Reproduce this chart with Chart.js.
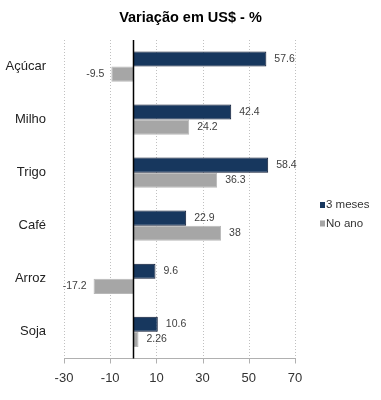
<!DOCTYPE html>
<html><head><meta charset="utf-8">
<script src="https://cdn.jsdelivr.net/npm/chart.js@4"></script>
<style>html,body{margin:0;padding:0;background:#fff}#wrap{width:381px;height:400px}</style>
</head><body><div id="wrap"><canvas id="c"></canvas></div>
<script>
const categories = ["Açúcar", "Milho", "Trigo", "Café", "Arroz", "Soja"];
const tresMeses = [57.6, 42.4, 58.4, 22.9, 9.6, 10.6];
const noAno = [-9.5, 24.2, 36.3, 38, -17.2, 2.26];
const seriesNames = ["3 meses", "No ano"];
const xTicks = [-30, -10, 10, 30, 50, 70];
const titleText = "Variação em US$ - %";
const FONT = "'Liberation Sans', Arial, sans-serif";

const extras = {
  id: 'extras',
  beforeDatasetsDraw(chart) {
    const ctx = chart.ctx, x = chart.scales.x, a = chart.chartArea;
    ctx.save();
    ctx.strokeStyle = '#c0c0c0'; ctx.lineWidth = 1; ctx.setLineDash([1, 2]);
    xTicks.forEach(v => {
      const px = Math.round(x.getPixelForValue(v)) + 0.5;
      ctx.beginPath(); ctx.moveTo(px, a.top); ctx.lineTo(px, a.bottom); ctx.stroke();
    });
    ctx.setLineDash([]);
    ctx.strokeStyle = '#b0b0b0';
    const by = Math.round(a.bottom) + 0.5;
    ctx.beginPath(); ctx.moveTo(a.left, by); ctx.lineTo(a.right + 1, by); ctx.stroke();
    xTicks.forEach(v => {
      const px = Math.round(x.getPixelForValue(v)) + 0.5;
      ctx.beginPath(); ctx.moveTo(px, by); ctx.lineTo(px, by + 5); ctx.stroke();
    });
    ctx.restore();
  },
  afterDatasetsDraw(chart) {
    const ctx = chart.ctx, x = chart.scales.x, a = chart.chartArea;
    const zx = Math.round(x.getPixelForValue(0)) + 0.5;
    ctx.save();
    ctx.strokeStyle = '#000'; ctx.lineWidth = 1.5;
    ctx.beginPath(); ctx.moveTo(zx, a.top); ctx.lineTo(zx, a.bottom); ctx.stroke();
    // data labels
    ctx.font = "10.5px " + FONT; ctx.fillStyle = '#404040'; ctx.textBaseline = 'middle';
    chart.data.datasets.forEach((ds, di) => {
      chart.getDatasetMeta(di).data.forEach((bar, i) => {
        const v = ds.data[i];
        if (v >= 0) { ctx.textAlign = 'left'; ctx.fillText(String(v), bar.x + 8, bar.y); }
        else { ctx.textAlign = 'right'; ctx.fillText(String(v), bar.x - 7, bar.y); }
      });
    });
    // legend
    ctx.font = "11.5px " + FONT; ctx.textAlign = 'left';
    chart.data.datasets.forEach((ds, di) => {
      const y = 205 + di * 18.5;
      ctx.fillStyle = ds.backgroundColor;
      ctx.fillRect(320, y - 3, 5, 6);
      ctx.fillStyle = '#333';
      ctx.fillText(ds.label, 326, y);
    });
    // title
    ctx.font = "bold 14.5px " + FONT; ctx.textAlign = 'center'; ctx.fillStyle = '#000';
    ctx.fillText(titleText, 190.5, 18);
    ctx.restore();
  }
};

new Chart(document.getElementById('c'), {
  type: 'bar',
  data: {
    labels: categories,
    datasets: [
      { label: seriesNames[0], data: tresMeses, backgroundColor: '#17375E', borderColor: '#0C1833', borderWidth: 1 },
      { label: seriesNames[1], data: noAno, backgroundColor: '#A6A6A6', borderColor: '#B8B8B8', borderWidth: 1 }
    ]
  },
  options: {
    indexAxis: 'y',
    responsive: true, maintainAspectRatio: false, animation: false,
    categoryPercentage: 0.57, barPercentage: 1,
    layout: { padding: { left: 0, right: 86, top: 40, bottom: 2 } },
    plugins: {
      legend: { display: false },
      tooltip: { enabled: false },
      title: { display: false }
    },
    scales: {
      x: {
        min: -30, max: 70,
        afterBuildTicks: s => { s.ticks = xTicks.map(v => ({ value: v })); },
        ticks: { color: '#333', font: { family: FONT, size: 13 }, padding: 12 },
        grid: { display: false, drawTicks: false },
        border: { display: false }
      },
      y: {
        afterFit: s => { s.width = 64; },
        ticks: { color: '#222', font: { family: FONT, size: 13 }, padding: 10 },
        grid: { display: false },
        border: { display: false }
      }
    }
  },
  plugins: [extras]
});
</script></body></html>
